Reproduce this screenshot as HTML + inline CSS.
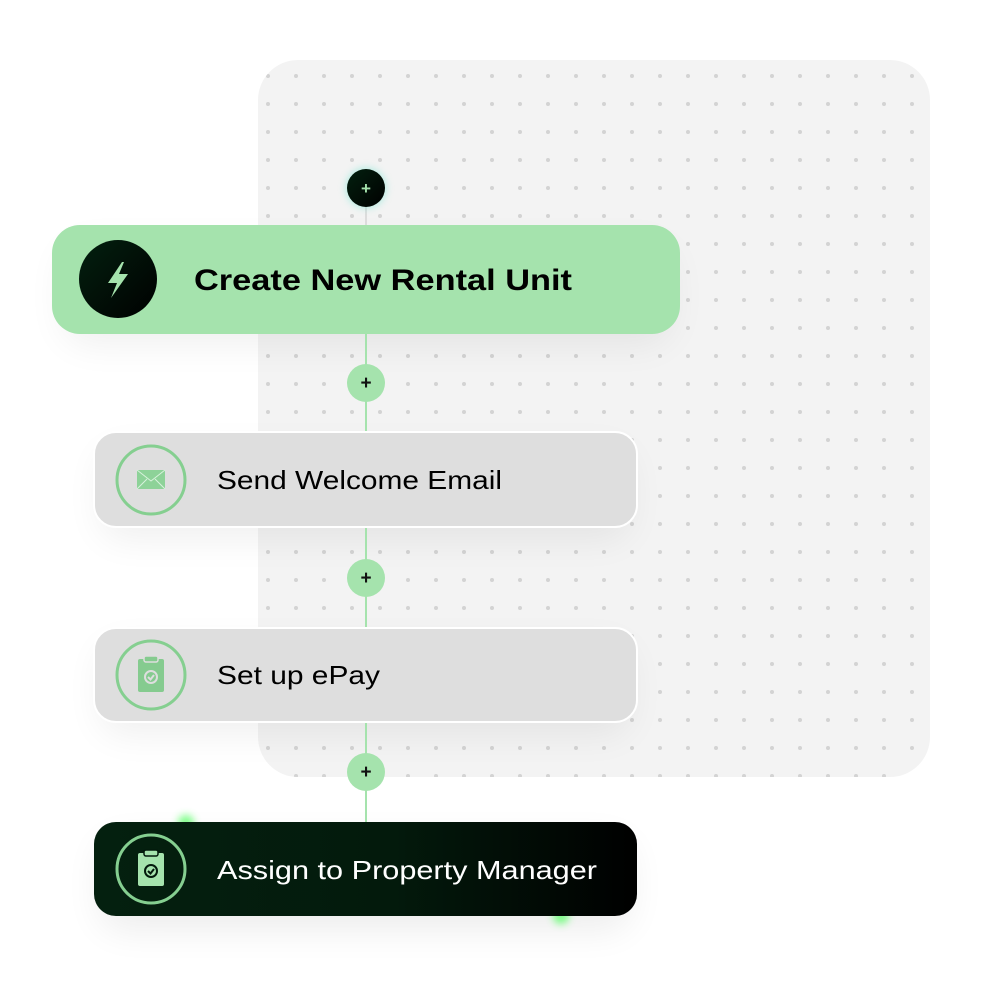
<!DOCTYPE html>
<html><head><meta charset="utf-8"><style>html,body{margin:0;padding:0;background:#fff}svg{display:block}</style></head>
<body>
<svg width="1001" height="1001" viewBox="0 0 1001 1001" xmlns="http://www.w3.org/2000/svg">
<defs>
<pattern id="dots" x="254" y="62" width="28" height="28" patternUnits="userSpaceOnUse">
<circle cx="14" cy="14" r="2" fill="#d3d3d3"/>
</pattern>
<filter id="sh" x="-30%" y="-60%" width="160%" height="220%"><feGaussianBlur stdDeviation="18"/></filter>
<filter id="gl" x="-100%" y="-100%" width="300%" height="300%"><feGaussianBlur stdDeviation="4"/></filter>
<linearGradient id="dk" x1="0" x2="1" y1="0" y2="0"><stop offset="0" stop-color="#04200f"/><stop offset="0.55" stop-color="#031a0c"/><stop offset="1" stop-color="#000"/></linearGradient>
<linearGradient id="dc" x1="0" x2="1" y1="0" y2="1"><stop offset="0" stop-color="#03200f"/><stop offset="1" stop-color="#000"/></linearGradient>
</defs>
<rect x="258" y="60" width="672" height="717" rx="40" fill="#f3f3f3"/>
<rect x="258" y="60" width="672" height="717" rx="40" fill="url(#dots)"/>
<rect x="62" y="245" width="610" height="100" rx="28" fill="#000" opacity="0.06" filter="url(#sh)"/>
<rect x="100" y="450" width="530" height="90" rx="22" fill="#000" opacity="0.06" filter="url(#sh)"/>
<rect x="100" y="645" width="530" height="90" rx="22" fill="#000" opacity="0.06" filter="url(#sh)"/>
<rect x="100" y="840" width="530" height="90" rx="22" fill="#000" opacity="0.07" filter="url(#sh)"/>
<line x1="366" y1="188" x2="366" y2="822" stroke="#a5e3ad" stroke-width="2"/>
<line x1="366" y1="188" x2="366" y2="236" stroke="#dcdcdc" stroke-width="2"/>
<circle cx="366" cy="188" r="20" fill="#7fe6d2" opacity="0.6" filter="url(#gl)"/>
<circle cx="366" cy="188" r="19" fill="url(#dc)"/>
<text x="366" y="194" text-anchor="middle" font-family="Liberation Sans, sans-serif" font-weight="bold" font-size="17" fill="#a5e3ad">+</text>
<rect x="52" y="225" width="628" height="109" rx="28" fill="#a5e3ad"/>
<circle cx="118" cy="279" r="39" fill="url(#dc)"/>
<path d="M122 262 L108 283 L117 283 L111 298 L128 274 L119 274 L124 262 Z" fill="#a5e3ad"/>
<text x="194" y="290" font-family="Liberation Sans, sans-serif" font-weight="bold" font-size="30" fill="#000" textLength="378" lengthAdjust="spacingAndGlyphs">Create New Rental Unit</text>
<g font-family="Liberation Sans, sans-serif" font-weight="bold" font-size="19" fill="#111" text-anchor="middle">
<circle cx="366" cy="383" r="19" fill="#a5e3ad"/><text x="366" y="389">+</text>
<circle cx="366" cy="578" r="19" fill="#a5e3ad"/><text x="366" y="584">+</text>
<circle cx="366" cy="772" r="19" fill="#a5e3ad"/><text x="366" y="778">+</text>
</g>
<rect x="94" y="432" width="543" height="95" rx="22" fill="#dedede" stroke="#fff" stroke-width="2"/>
<circle cx="151" cy="480" r="34" fill="none" stroke="#85cf90" stroke-width="3"/>
<rect x="137" y="470" width="28" height="19" fill="#8dd298"/>
<path d="M137 470 L151 481 L165 470 M137 489 L147 479 M165 489 L155 479" stroke="#d8f2dc" stroke-width="1" fill="none"/>
<text x="217" y="489" font-family="Liberation Sans, sans-serif" font-size="26" fill="#000" textLength="285" lengthAdjust="spacingAndGlyphs">Send Welcome Email</text>
<rect x="94" y="628" width="543" height="94" rx="22" fill="#dedede" stroke="#fff" stroke-width="2"/>
<circle cx="151" cy="675" r="34" fill="none" stroke="#85cf90" stroke-width="3"/>
<rect x="138" y="659" width="26" height="33" rx="2" fill="#85cb8f"/>
<rect x="144" y="656" width="14" height="6" rx="2" fill="#85cb8f" stroke="#dedede" stroke-width="1.5"/>
<circle cx="151" cy="677" r="6" fill="none" stroke="#dedede" stroke-width="2"/>
<path d="M148 677 L150.5 679.5 L154 675" stroke="#dedede" stroke-width="2" fill="none"/>
<text x="217" y="684" font-family="Liberation Sans, sans-serif" font-size="26" fill="#000" textLength="163" lengthAdjust="spacingAndGlyphs">Set up ePay</text>
<circle cx="186" cy="823" r="8" fill="#5dff6a" opacity="0.8" filter="url(#gl)"/>
<circle cx="561" cy="916" r="8" fill="#5dff6a" opacity="0.8" filter="url(#gl)"/>
<rect x="94" y="822" width="543" height="94" rx="22" fill="url(#dk)"/>
<circle cx="151" cy="869" r="34" fill="none" stroke="#85cf90" stroke-width="3"/>
<rect x="138" y="853" width="26" height="33" rx="2" fill="#a5e3ad"/>
<rect x="144" y="850" width="14" height="6" rx="2" fill="#a5e3ad" stroke="#031a0c" stroke-width="1.5"/>
<circle cx="151" cy="871" r="6" fill="none" stroke="#031a0c" stroke-width="2"/>
<path d="M148 871 L150.5 873.5 L154 869" stroke="#031a0c" stroke-width="2" fill="none"/>
<text x="217" y="879" font-family="Liberation Sans, sans-serif" font-size="26" fill="#fff" textLength="380" lengthAdjust="spacingAndGlyphs">Assign to Property Manager</text>
</svg>
</body></html>
